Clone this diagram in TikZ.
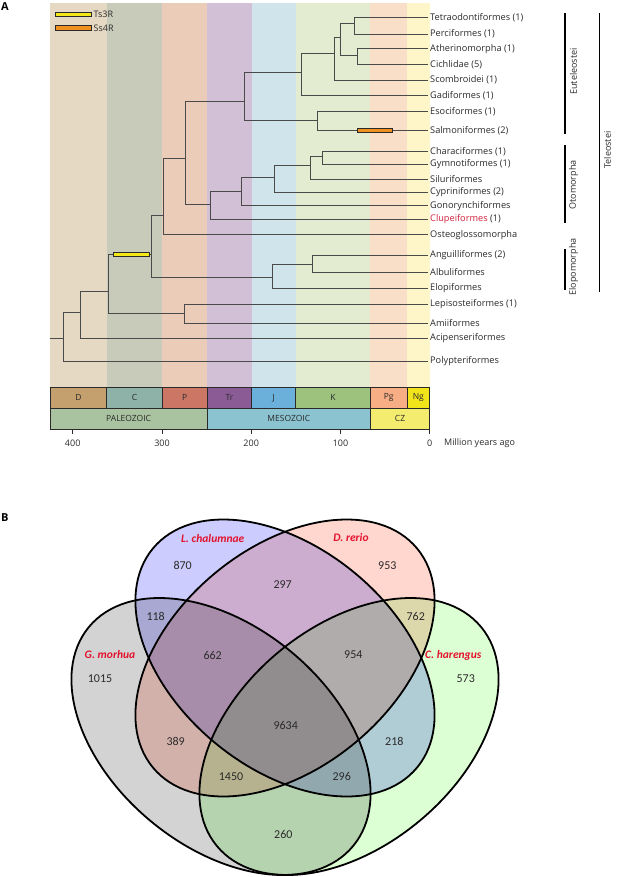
\documentclass[tikz,border=0pt]{standalone}
\usepackage{fontspec}
\setmainfont{Open Sans}
\newfontfamily\vennfont{Carlito}
\definecolor{bgD}{HTML}{E6D9C3}
\definecolor{bgC}{HTML}{C9CBBA}
\definecolor{bgP}{HTML}{EBCCB8}
\definecolor{bgTr}{HTML}{D2C1D6}
\definecolor{bgJ}{HTML}{D0E4EC}
\definecolor{bgK}{HTML}{E3EBD1}
\definecolor{bgPg}{HTML}{F9DFC8}
\definecolor{bgNg}{HTML}{FEF5C9}
\definecolor{brD}{HTML}{C4A06E}
\definecolor{brC}{HTML}{8EB2A8}
\definecolor{brP}{HTML}{CC7766}
\definecolor{brTr}{HTML}{8A5B95}
\definecolor{brJ}{HTML}{6BB0DA}
\definecolor{brK}{HTML}{9CC27E}
\definecolor{brPg}{HTML}{F7AE85}
\definecolor{brNg}{HTML}{F2E41A}
\definecolor{erPal}{HTML}{A9C3A0}
\definecolor{erMes}{HTML}{8CC3D1}
\definecolor{erCz}{HTML}{F3EC6F}
\definecolor{ts3}{HTML}{F2E81A}
\definecolor{ss4}{HTML}{F0901E}
\definecolor{clured}{HTML}{D2203C}
\definecolor{vred}{HTML}{E3122D}
\definecolor{gmor}{HTML}{D3D3D3}
\definecolor{lcha}{HTML}{CCCCFF}
\definecolor{drer}{HTML}{FFD7CF}
\definecolor{char}{HTML}{DDFFD4}
\definecolor{ink}{HTML}{2A2A2A}
\begin{document}
\begin{tikzpicture}[x=1pt,y=-1pt,
  branch/.style={draw=ink!85, line width=0.9pt},
  leaf/.style={anchor=west, inner sep=2pt, font=\fontsize{9.2}{11}\selectfont, text=ink},
  perbox/.style={draw=ink, line width=0.8pt},
  pertext/.style={font=\fontsize{8.5}{10}\selectfont, text=ink},
  cladebar/.style={draw=black, line width=1.4pt},
  cladetext/.style={font=\fontsize{9}{10}\selectfont, rotate=90, text=ink},
  dupbar/.style={draw=ink, line width=0.7pt},
  vennline/.style={draw=black, line width=1.8pt},
  vnum/.style={font=\vennfont\fontsize{12}{13}\selectfont, text=ink},
  vname/.style={font=\vennfont\bfseries\itshape\fontsize{11.5}{13}\selectfont, text=vred},
  panel/.style={font=\bfseries\fontsize{11}{12}\selectfont, anchor=north west, inner sep=0pt}]
\useasboundingbox (0,0) rectangle (617,877);
\node[panel] (pA) at (1,2) {A};
\node[panel] (pB) at (1,513) {B};
% background stripes
\fill[bgD] (50,3) rectangle (106.7,387.3);
\fill[bgC] (106.7,3) rectangle (162.3,387.3);
\fill[bgP] (162.3,3) rectangle (207.3,387.3);
\fill[bgTr] (207.3,3) rectangle (251.7,387.3);
\fill[bgJ] (251.7,3) rectangle (295.7,387.3);
\fill[bgK] (295.7,3) rectangle (370.3,387.3);
\fill[bgPg] (370.3,3) rectangle (407,387.3);
\fill[bgNg] (407,3) rectangle (429.7,387.3);
% legend
\draw[dupbar, fill=ts3] (55.7,12.3) rectangle (91.7,16.7);
\node[anchor=west, inner sep=1pt, font=\fontsize{9}{10}\selectfont, text=ink] (lgA) at (92.5,14.5) {Ts3R};
\draw[dupbar, fill=ss4] (55.7,25.7) rectangle (91.7,30);
\node[anchor=west, inner sep=1pt, font=\fontsize{9}{10}\selectfont, text=ink] (lgB) at (92.5,27.8) {Ss4R};
% period bar
\foreach \a/\b/\c/\t in {50/106.7/brD/D,106.7/162.3/brC/C,162.3/207.3/brP/P,207.3/251.7/brTr/Tr,251.7/295.7/brJ/J,295.7/370.3/brK/K,370.3/407/brPg/Pg,407/429.7/brNg/Ng}{
  \draw[perbox, fill=\c] (\a,387.3) rectangle (\b,408.3);
  \node[pertext] at ({(\a+\b)/2},397.8) {\t};
}
\foreach \a/\b/\c/\t in {50/207.3/erPal/PALEOZOIC,207.3/370.3/erMes/MESOZOIC,370.3/429.7/erCz/CZ}{
  \draw[perbox, fill=\c] (\a,408.3) rectangle (\b,429.3);
  \node[pertext] at ({(\a+\b)/2},418.8) {\t};
}
\foreach \x/\t in {72.7/400,162/300,251.2/200,340.5/100,429.7/0}{
  \draw[ink, line width=0.8pt] (\x,429.3) -- (\x,434);
  \node[pertext, font=\fontsize{9}{10}\selectfont] at (\x,443.5) {\t};
}
\node[anchor=west, inner sep=0pt, font=\fontsize{9}{10}\selectfont, text=ink] (mya) at (444,443.5) {Million years ago};
% leaves
\node[leaf] (L1) at (428,17.3) {Tetraodontiformes (1)};
\node[leaf] (L2) at (428,34) {Perciformes (1)};
\node[leaf] (L3) at (428,48.7) {Atherinomorpha (1)};
\node[leaf] (L4) at (428,64.3) {Cichlidae (5)};
\node[leaf] (L5) at (428,80) {Scombroidei (1)};
\node[leaf] (L6) at (428,95.3) {Gadiformes (1)};
\node[leaf] (L7) at (428,111.3) {Esociformes (1)};
\node[leaf] (L8) at (428,130.7) {Salmoniformes (2)};
\node[leaf] (L9) at (428,151.5) {Characiformes (1)};
\node[leaf] (L10) at (428,164) {Gymnotiformes (1)};
\node[leaf] (L11) at (428,179.2) {Siluriformes};
\node[leaf] (L12) at (428,192.5) {Cypriniformes (2)};
\node[leaf] (L13) at (428,205.8) {Gonorynchiformes};
\node[leaf] (L14) at (428,219.3) {\textcolor{clured}{Clupeiformes} (1)};
\node[leaf] (L15) at (428,234.8) {Osteoglossomorpha};
\node[leaf] (L16) at (428,255) {Anguilliformes (2)};
\node[leaf] (L17) at (428,272.3) {Albuliformes};
\node[leaf] (L18) at (428,288.3) {Elopiformes};
\node[leaf] (L19) at (428,304) {Lepisosteiformes (1)};
\node[leaf] (L20) at (428,323.2) {Amiiformes};
\node[leaf] (L21) at (428,338.5) {Acipenseriformes};
\node[leaf] (L22) at (428,361.5) {Polypteriformes};
% internal nodes
\coordinate (nTP) at (354,23);
\coordinate (nAC) at (357.3,55);
\coordinate (nTPAC) at (340.7,37.7);
\coordinate (nS) at (334.3,53.3);
\coordinate (nG) at (301,72.7);
\coordinate (nES) at (317.3,120);
\coordinate (nEut) at (244,101);
\coordinate (nCG) at (322.3,156);
\coordinate (nCGS) at (310.3,165);
\coordinate (nCyp) at (274.3,177.5);
\coordinate (nGon) at (241.3,191);
\coordinate (nOto) at (210.7,204.3);
\coordinate (nClu) at (185.7,158.5);
\coordinate (nOst) at (163.3,215.3);
\coordinate (nElo2) at (312.7,264);
\coordinate (nElo) at (272,277);
\coordinate (nTel) at (151.7,254.3);
\coordinate (nHol) at (184,313.3);
\coordinate (nNeo) at (108.3,291);
\coordinate (nAct) at (80.3,312.7);
\coordinate (nRoot) at (63.3,338.5);
\coordinate (root) at (50,338.5);
\foreach \p/\c in {nTP/L1.west,nTP/L2.west,nAC/L3.west,nAC/L4.west,nTPAC/nTP,nTPAC/nAC,nS/nTPAC,nS/L5.west,nG/nS,nG/L6.west,nES/L7.west,nES/L8.west,nEut/nG,nEut/nES,nCG/L9.west,nCG/L10.west,nCGS/nCG,nCGS/L11.west,nCyp/nCGS,nCyp/L12.west,nGon/nCyp,nGon/L13.west,nOto/nGon,nOto/L14.west,nClu/nEut,nClu/nOto,nOst/nClu,nOst/L15.west,nElo2/L16.west,nElo2/L17.west,nElo/nElo2,nElo/L18.west,nTel/nOst,nTel/nElo,nHol/L19.west,nHol/L20.west,nNeo/nTel,nNeo/nHol,nAct/nNeo,nAct/L21.west,nRoot/nAct,nRoot/L22.west}{
  \draw[branch] (\p) |- (\c);
}
\draw[branch] (root) -- (nRoot);
% duplication bars
\draw[dupbar, fill=ts3] (113.3,252.2) rectangle (149.3,256.5);
\draw[dupbar, fill=ss4] (357.3,128.6) rectangle (392,132.8);
% clade bars
\draw[cladebar] (565,13.3) -- (565,134.3);
\node[cladetext] (cEut) at (573.5,71.5) {Euteleostei};
\draw[cladebar] (565,145) -- (565,222.7);
\node[cladetext] (cOto) at (573.5,185) {Otomorpha};
\draw[cladebar] (565,249) -- (565,290);
\node[cladetext] (cElo) at (573.5,267) {Elopomorpha};
\draw[cladebar] (599.3,13.3) -- (599.3,291.7);
\node[cladetext] (cTel) at (607.5,150) {Teleostei};
% Venn
\begin{scope}[blend group=multiply]
\fill[gmor, rotate around={-39.7:(221,736.5)}] (221,736.5) ellipse [x radius=171.6, y radius=110];
\fill[lcha, rotate around={-39.7:(285,658)}] (285,658) ellipse [x radius=171.6, y radius=110];
\fill[drer, rotate around={39.7:(285,658)}] (285,658) ellipse [x radius=171.6, y radius=110];
\fill[char, rotate around={39.7:(349,736.5)}] (349,736.5) ellipse [x radius=171.6, y radius=110];
\end{scope}
\draw[vennline, rotate around={-39.7:(221,736.5)}] (221,736.5) ellipse [x radius=171.6, y radius=110];
\draw[vennline, rotate around={-39.7:(285,658)}] (285,658) ellipse [x radius=171.6, y radius=110];
\draw[vennline, rotate around={39.7:(285,658)}] (285,658) ellipse [x radius=171.6, y radius=110];
\draw[vennline, rotate around={39.7:(349,736.5)}] (349,736.5) ellipse [x radius=171.6, y radius=110];
\node[vname] (vL) at (212.7,538.3) {L. chalumnae};
\node[vname] (vD) at (351,537.7) {D. rerio};
\node[vname] (vG) at (110,654.3) {G. morhua};
\node[vname] (vC) at (453.3,655) {C. harengus};
\node[vnum] (n870) at (182.7,565.7) {870};
\node[vnum] (n297) at (282.7,585) {297};
\node[vnum] (n953) at (387.3,565.7) {953};
\node[vnum] (n118) at (155.7,616) {118};
\node[vnum] (n762) at (415.7,616.7) {762};
\node[vnum] (n662) at (212.7,655) {662};
\node[vnum] (n954) at (353.3,655) {954};
\node[vnum] (n1015) at (100,678.7) {1015};
\node[vnum] (n573) at (465.7,678.7) {573};
\node[vnum] (n9634) at (285.7,725.7) {9634};
\node[vnum] (n389) at (175.7,741) {389};
\node[vnum] (n218) at (394.3,741) {218};
\node[vnum] (n1450) at (231,776.7) {1450};
\node[vnum] (n296) at (341.7,776.7) {296};
\node[vnum] (n260) at (283.3,834) {260};
\end{tikzpicture}
\end{document}
